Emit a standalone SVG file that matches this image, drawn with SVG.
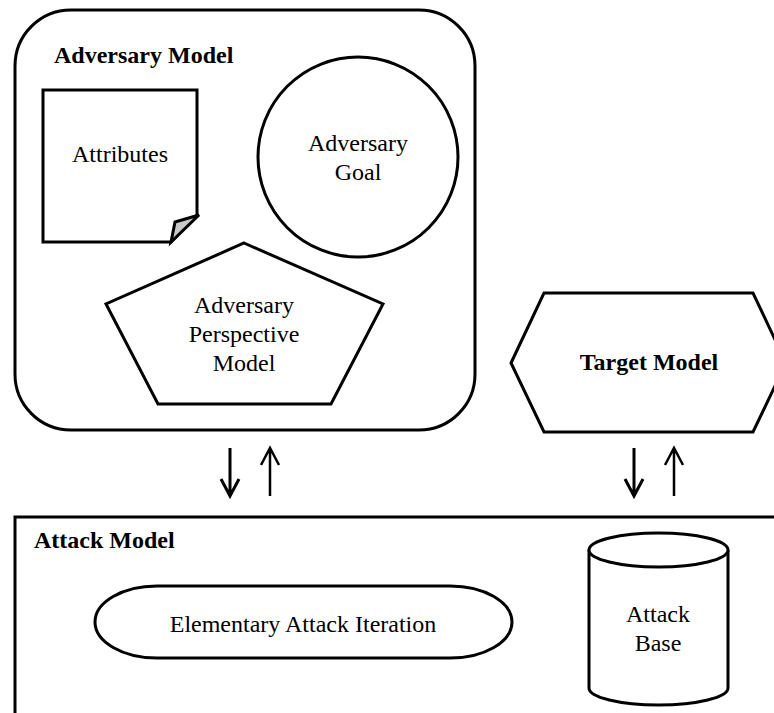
<svg xmlns="http://www.w3.org/2000/svg" width="774" height="713" viewBox="0 0 774 713">
<style>
.s{fill:#fff;stroke:#000;stroke-width:3;stroke-linejoin:miter}
.t{font-family:"Liberation Serif","Times New Roman",serif;font-size:24px;fill:#000;text-anchor:middle}
.b{font-weight:bold}
.a{fill:none;stroke:#000;stroke-width:3;stroke-linecap:butt}
</style>
<rect width="774" height="713" fill="#fff"/>
<g id="adversary-model">
<rect class="s" x="15" y="10" width="460" height="420" rx="56" ry="56"/>
<text class="t b" x="54" y="63" style="text-anchor:start">Adversary Model</text>
</g>
<g id="attributes">
<path class="s" d="M43,90 H197 V215 L171,242 H43 Z"/>
<path d="M199,215 L175,222 L171,242 Z" fill="#c8c8c8" stroke="#000" stroke-width="3" stroke-linejoin="miter"/>
<text class="t" x="120" y="162">Attributes</text>
</g>
<g id="adversary-goal">
<circle class="s" cx="358" cy="157" r="100"/>
<text class="t" x="358" y="151">Adversary</text>
<text class="t" x="358" y="180">Goal</text>
</g>
<g id="adversary-perspective-model">
<polygon class="s" points="244,243 383,304 331,404 158,404 106,304"/>
<text class="t" x="244" y="313">Adversary</text>
<text class="t" x="244" y="342">Perspective</text>
<text class="t" x="244" y="371">Model</text>
</g>
<g id="target-model">
<polygon class="s" points="511,363 544,293 753,293 786,363 753,432 544,432"/>
<text class="t b" x="649" y="370">Target Model</text>
</g>
<g id="attack-model">
<rect class="s" x="15" y="517" width="800" height="300"/>
<text class="t b" x="34" y="548" style="text-anchor:start">Attack Model</text>
</g>
<g id="elementary-attack-iteration">
<rect class="s" x="95" y="586" width="417" height="72" rx="62" ry="36"/>
<text class="t" x="303" y="632">Elementary Attack Iteration</text>
</g>
<g id="attack-base">
<path class="s" d="M589,550 V688 A69.5,17 0 0 0 728,688 V550"/>
<ellipse class="s" cx="658.5" cy="550" rx="69.5" ry="17"/>
<text class="t" x="658" y="622">Attack</text>
<text class="t" x="658" y="651">Base</text>
</g>
<g id="connectors">
<path class="a" d="M230,448 V495 M221,479 L230,496 L239,479"/>
<path class="a" d="M270,449 V496 M261,465 L270,448 L279,465" style="stroke-width:2.5"/>
<path class="a" d="M634,448 V495 M625,479 L634,496 L643,479"/>
<path class="a" d="M674,449 V496 M665,465 L674,448 L683,465" style="stroke-width:2.5"/>
</g>
</svg>
